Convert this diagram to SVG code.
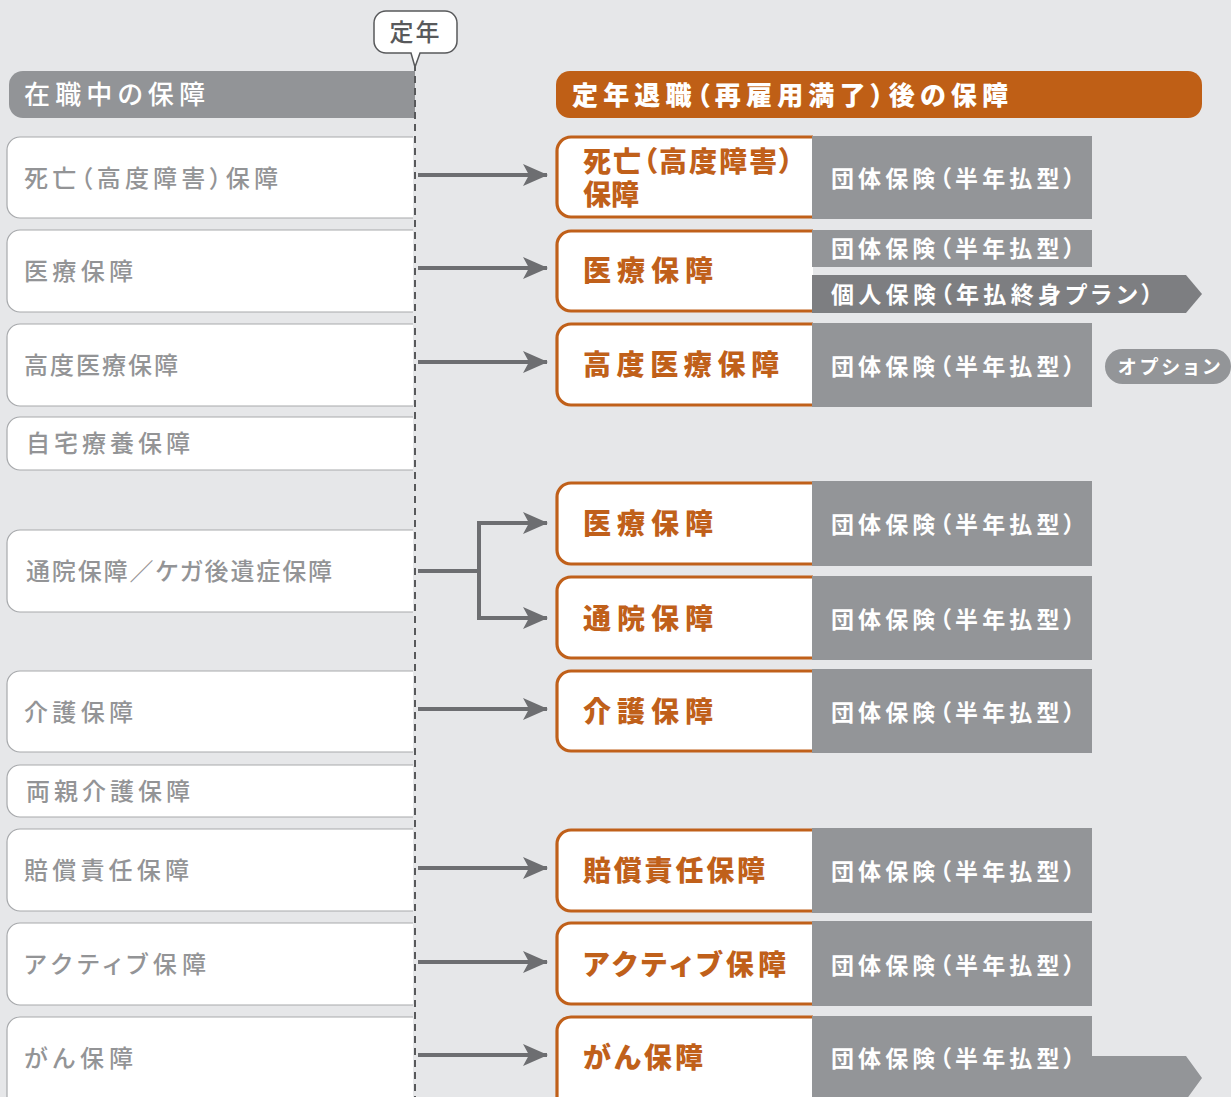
<svg xmlns="http://www.w3.org/2000/svg" width="1231" height="1097" viewBox="0 0 1231 1097">
<defs>
<style>
text{font-feature-settings:"palt" 1}
.lbox{fill:#ffffff;stroke:#a7a9ac;stroke-width:1.2}
.ltxt{font-family:"Noto Sans CJK JP","Noto Sans",sans-serif;font-size:24px;fill:#939496;font-weight:500}
.rbox{fill:#ffffff;stroke:#c0601a;stroke-width:3.2}
.gbox{fill:#939598}
.darr{fill:#7d7e81}
.otxt{font-family:"Noto Sans CJK JP","Noto Sans",sans-serif;font-size:28px;font-weight:900;fill:#c0601a}
.gtxt{font-family:"Noto Sans CJK JP","Noto Sans",sans-serif;font-size:23px;font-weight:700;fill:#ffffff}
.conn{fill:none;stroke:#6d6e71;stroke-width:4}
</style>
<marker id="ah" markerUnits="userSpaceOnUse" markerWidth="26" markerHeight="22" refX="24" refY="11" orient="auto">
<path d="M0,0 L25,11 L0,22 L6,11 Z" fill="#6d6e71"/>
</marker>
</defs>
<rect width="1231" height="1097" fill="#e6e7e9"/>

<g id="header-left">
<path d="M415,71 H23 A14,14 0 0 0 9,85 V104 A14,14 0 0 0 23,118 H415 Z" fill="#929497"/>
<text x="24" y="104" font-family="'Noto Sans CJK JP',sans-serif" font-size="26" font-weight="500" fill="#ffffff" textLength="181" lengthAdjust="spacing">在職中の保障</text>
</g>

<g id="header-right">
<rect x="556" y="71" width="646" height="47" rx="14" fill="#bf5f16"/>
<text x="572" y="105" font-family="'Noto Sans CJK JP',sans-serif" font-size="26" font-weight="900" fill="#ffffff" textLength="436" lengthAdjust="spacing">定年退職（再雇用満了）後の保障</text>
</g>

<g id="left-nodes">
<g id="l1"><path class="lbox" d="M413,137 H20 A13,13 0 0 0 7,150 V205 A13,13 0 0 0 20,218 H413"/><text class="ltxt" x="24" y="187" textLength="254" lengthAdjust="spacing">死亡（高度障害）保障</text></g>
<g id="l2"><path class="lbox" d="M413,230 H20 A13,13 0 0 0 7,243 V299 A13,13 0 0 0 20,312 H413"/><text class="ltxt" x="24" y="280" textLength="109" lengthAdjust="spacing">医療保障</text></g>
<g id="l3"><path class="lbox" d="M413,324 H20 A13,13 0 0 0 7,337 V393 A13,13 0 0 0 20,406 H413"/><text class="ltxt" x="24" y="374" textLength="154" lengthAdjust="spacing">高度医療保障</text></g>
<g id="l4"><path class="lbox" d="M413,417 H20 A13,13 0 0 0 7,430 V457 A13,13 0 0 0 20,470 H413"/><text class="ltxt" x="26" y="452" textLength="164" lengthAdjust="spacing">自宅療養保障</text></g>
<g id="l5"><path class="lbox" d="M413,530 H20 A13,13 0 0 0 7,543 V599 A13,13 0 0 0 20,612 H413"/><text class="ltxt" x="26" y="580" textLength="306" lengthAdjust="spacing">通院保障／ケガ後遺症保障</text></g>
<g id="l6"><path class="lbox" d="M413,671 H20 A13,13 0 0 0 7,684 V739 A13,13 0 0 0 20,752 H413"/><text class="ltxt" x="24" y="721" textLength="109" lengthAdjust="spacing">介護保障</text></g>
<g id="l7"><path class="lbox" d="M413,765 H20 A13,13 0 0 0 7,778 V804 A13,13 0 0 0 20,817 H413"/><text class="ltxt" x="26" y="800" textLength="164" lengthAdjust="spacing">両親介護保障</text></g>
<g id="l8"><path class="lbox" d="M413,829 H20 A13,13 0 0 0 7,842 V898 A13,13 0 0 0 20,911 H413"/><text class="ltxt" x="24" y="879" textLength="165" lengthAdjust="spacing">賠償責任保障</text></g>
<g id="l9"><path class="lbox" d="M413,923 H20 A13,13 0 0 0 7,936 V992 A13,13 0 0 0 20,1005 H413"/><text class="ltxt" x="24" y="973" textLength="182" lengthAdjust="spacing">アクティブ保障</text></g>
<g id="l10"><path class="lbox" d="M413,1017 H20 A13,13 0 0 0 7,1030 V1110 H413"/><text class="ltxt" x="24" y="1067" textLength="109" lengthAdjust="spacing">がん保障</text></g>
</g>

<g id="teinen-line">
<line x1="415" y1="64" x2="415" y2="1097" stroke="#58595b" stroke-width="2" stroke-dasharray="7 5"/>
</g>

<g id="teinen-bubble">
<path d="M386,11 H445 A12,12 0 0 1 457,23 V41 A12,12 0 0 1 445,53 H420 L415,67 L411,53 H386 A12,12 0 0 1 374,41 V23 A12,12 0 0 1 386,11 Z" fill="#ffffff" stroke="#58595b" stroke-width="1.5"/>
<text x="415.5" y="41" text-anchor="middle" font-family="'Noto Sans CJK JP',sans-serif" font-size="24" font-weight="500" fill="#58595b" letter-spacing="2">定年</text>
</g>

<g id="connectors">
<path class="conn" marker-end="url(#ah)" d="M418,175 H547"/>
<path class="conn" marker-end="url(#ah)" d="M418,268 H547"/>
<path class="conn" marker-end="url(#ah)" d="M418,362 H547"/>
<path class="conn" d="M418,571 H479"/>
<path class="conn" marker-end="url(#ah)" d="M479,571 V523 H547"/>
<path class="conn" marker-end="url(#ah)" d="M479,571 V618 H547"/>
<path class="conn" marker-end="url(#ah)" d="M418,709 H547"/>
<path class="conn" marker-end="url(#ah)" d="M418,868 H547"/>
<path class="conn" marker-end="url(#ah)" d="M418,962 H547"/>
<path class="conn" marker-end="url(#ah)" d="M418,1055 H547"/>
</g>

<g id="right-nodes">
<g id="r1">
<path class="rbox" d="M813,137 H571 A14,14 0 0 0 557,151 V203 A14,14 0 0 0 571,217 H813"/>
<rect class="gbox" x="812" y="136" width="280" height="83"/>
<text class="otxt"><tspan x="583" y="172" textLength="210" lengthAdjust="spacing">死亡（高度障害）</tspan><tspan x="583" y="205">保障</tspan></text>
<text class="gtxt" x="831" y="187" textLength="244" lengthAdjust="spacing">団体保険（半年払型）</text>
</g>
<g id="r2">
<path class="rbox" d="M813,231 H571 A14,14 0 0 0 557,245 V297 A14,14 0 0 0 571,311 H813"/>
<rect class="gbox" x="812" y="230" width="280" height="37"/>
<polygon class="darr" points="812,275 1186,275 1202,294 1186,313 812,313"/>
<text class="otxt" x="583" y="281" textLength="130" lengthAdjust="spacing">医療保障</text>
<text class="gtxt" x="831" y="257" textLength="244" lengthAdjust="spacing">団体保険（半年払型）</text>
<text class="gtxt" x="831" y="303" textLength="322" lengthAdjust="spacing">個人保険（年払終身プラン）</text>
</g>
<g id="r3">
<path class="rbox" d="M813,324 H571 A14,14 0 0 0 557,338 V391 A14,14 0 0 0 571,405 H813"/>
<rect class="gbox" x="812" y="323" width="280" height="84"/>
<text class="otxt" x="583" y="375" textLength="196" lengthAdjust="spacing">高度医療保障</text>
<text class="gtxt" x="831" y="375" textLength="244" lengthAdjust="spacing">団体保険（半年払型）</text>
</g>
<g id="option">
<rect x="1105" y="349" width="126" height="35" rx="17.5" fill="#939598"/>
<text x="1118" y="374" font-family="'Noto Sans CJK JP',sans-serif" font-size="19" font-weight="700" fill="#ffffff" textLength="102" lengthAdjust="spacing">オプション</text>
</g>
<g id="r4">
<path class="rbox" d="M813,483 H571 A14,14 0 0 0 557,497 V550 A14,14 0 0 0 571,564 H813"/>
<rect class="gbox" x="812" y="481" width="280" height="85"/>
<text class="otxt" x="583" y="534" textLength="130" lengthAdjust="spacing">医療保障</text>
<text class="gtxt" x="831" y="533" textLength="244" lengthAdjust="spacing">団体保険（半年払型）</text>
</g>
<g id="r5">
<path class="rbox" d="M813,577 H571 A14,14 0 0 0 557,591 V644 A14,14 0 0 0 571,658 H813"/>
<rect class="gbox" x="812" y="576" width="280" height="84"/>
<text class="otxt" x="583" y="629" textLength="130" lengthAdjust="spacing">通院保障</text>
<text class="gtxt" x="831" y="628" textLength="244" lengthAdjust="spacing">団体保険（半年払型）</text>
</g>
<g id="r6">
<path class="rbox" d="M813,671 H571 A14,14 0 0 0 557,685 V737 A14,14 0 0 0 571,751 H813"/>
<rect class="gbox" x="812" y="669" width="280" height="84"/>
<text class="otxt" x="583" y="722" textLength="130" lengthAdjust="spacing">介護保障</text>
<text class="gtxt" x="831" y="721" textLength="244" lengthAdjust="spacing">団体保険（半年払型）</text>
</g>
<g id="r7">
<path class="rbox" d="M813,830 H571 A14,14 0 0 0 557,844 V897 A14,14 0 0 0 571,911 H813"/>
<rect class="gbox" x="812" y="828" width="280" height="85"/>
<text class="otxt" x="583" y="881" textLength="182" lengthAdjust="spacing">賠償責任保障</text>
<text class="gtxt" x="831" y="880" textLength="244" lengthAdjust="spacing">団体保険（半年払型）</text>
</g>
<g id="r8">
<path class="rbox" d="M813,923 H571 A14,14 0 0 0 557,937 V990 A14,14 0 0 0 571,1004 H813"/>
<rect class="gbox" x="812" y="921" width="280" height="85"/>
<text class="otxt" x="583" y="975" textLength="203" lengthAdjust="spacing">アクティブ保障</text>
<text class="gtxt" x="831" y="974" textLength="244" lengthAdjust="spacing">団体保険（半年払型）</text>
</g>
<g id="r9">
<path class="rbox" d="M813,1017 H571 A14,14 0 0 0 557,1031 V1110 H813"/>
<polygon class="gbox" points="812,1016 1092,1016 1092,1056 1186,1056 1202,1078 1186,1100 812,1100"/>
<text class="otxt" x="583" y="1068" textLength="120" lengthAdjust="spacing">がん保障</text>
<text class="gtxt" x="831" y="1067" textLength="244" lengthAdjust="spacing">団体保険（半年払型）</text>
</g>
</g>
</svg>
